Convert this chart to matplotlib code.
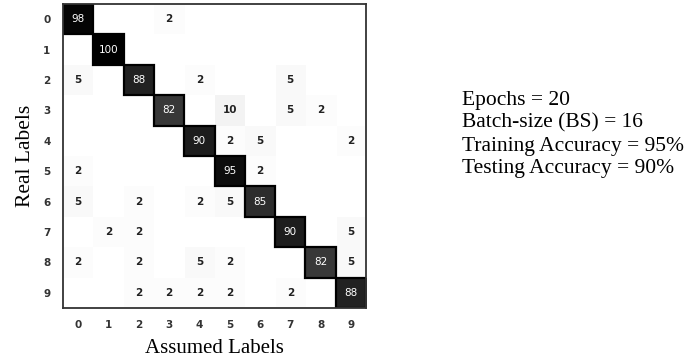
import matplotlib.pyplot as plt
import numpy as np
from matplotlib.patches import Rectangle

labels = ["0", "1", "2", "3", "4", "5", "6", "7", "8", "9"]

# rows = real label, columns = assumed label
cm = np.array([
    [98, 0, 0, 2, 0, 0, 0, 0, 0, 0],
    [0, 100, 0, 0, 0, 0, 0, 0, 0, 0],
    [5, 0, 88, 0, 2, 0, 0, 5, 0, 0],
    [0, 0, 0, 82, 0, 10, 0, 5, 2, 0],
    [0, 0, 0, 0, 90, 2, 5, 0, 0, 2],
    [2, 0, 0, 0, 0, 95, 2, 0, 0, 0],
    [5, 0, 2, 0, 2, 5, 85, 0, 0, 0],
    [0, 2, 2, 0, 0, 0, 0, 90, 0, 5],
    [2, 0, 2, 0, 5, 2, 0, 0, 82, 5],
    [0, 0, 2, 2, 2, 2, 0, 2, 0, 88],
])

info = [
    "Epochs = 20",
    "Batch-size (BS) = 16",
    "Training Accuracy = 95%",
    "Testing Accuracy = 90%",
]

fig = plt.figure(figsize=(6.87, 3.58), dpi=100)
ax = fig.add_axes([0.0917, 0.1397, 0.4411, 0.8491])
ax.imshow(cm, cmap="Greys", vmin=0, vmax=100, aspect="auto")

for i in range(cm.shape[0]):
    for j in range(cm.shape[1]):
        v = cm[i, j]
        if v == 0:
            continue
        if v > 50:
            # dark outline round the diagonal cells
            ax.add_patch(Rectangle((j - 0.5, i - 0.5), 1, 1, fill=False,
                                   edgecolor="black", linewidth=1.6))
        color = "white" if v > 50 else "#222222"
        ax.text(j, i, str(v), ha="center", va="center", fontsize=7.5,
                color=color, fontweight="bold" if v <= 50 else "normal")

ax.set_xticks(range(len(labels)))
ax.set_yticks(range(len(labels)))
ax.set_xticklabels(labels, fontsize=7.5, fontweight="bold", color="#333333")
ax.set_yticklabels(labels, fontsize=7.5, fontweight="bold", color="#333333")
ax.tick_params(length=0, pad=9)
for s in ax.spines.values():
    s.set_linewidth(1.3)
    s.set_color("#333333")

ax.set_xlabel("Assumed Labels", fontsize=15, family="Liberation Serif", labelpad=6)
ax.set_ylabel("Real Labels", fontsize=15.5, family="Liberation Serif", labelpad=6)

ys = [100, 123, 146, 169]
for line, y in zip(info, ys):
    fig.text(462 / 687, 1 - y / 358, line, fontsize=15.5, family="Liberation Serif",
             ha="left", va="center")

fig.savefig("out.png", dpi=100)
